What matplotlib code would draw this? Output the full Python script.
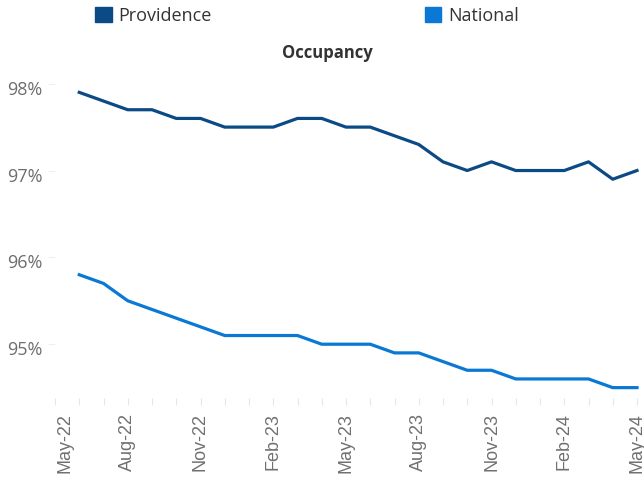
import matplotlib
matplotlib.use("Agg")
import matplotlib.pyplot as plt
import matplotlib.transforms as mtransforms
from matplotlib.patches import Patch
from matplotlib.ticker import FuncFormatter, MultipleLocator

# months from May-22 (index 0) to May-24 (index 24); series start at Jun-22
months = ["May-22", "Jun-22", "Jul-22", "Aug-22", "Sep-22", "Oct-22", "Nov-22",
          "Dec-22", "Jan-23", "Feb-23", "Mar-23", "Apr-23", "May-23", "Jun-23",
          "Jul-23", "Aug-23", "Sep-23", "Oct-23", "Nov-23", "Dec-23", "Jan-24",
          "Feb-24", "Mar-24", "Apr-24", "May-24"]

providence = [97.9, 97.8, 97.7, 97.7, 97.6, 97.6, 97.5, 97.5, 97.5, 97.6, 97.6, 97.5,
              97.5, 97.4, 97.3, 97.1, 97.0, 97.1, 97.0, 97.0, 97.0, 97.1, 96.9, 97.0]
national = [95.8, 95.7, 95.5, 95.4, 95.3, 95.2, 95.1, 95.1, 95.1, 95.1, 95.0, 95.0,
            95.0, 94.9, 94.9, 94.8, 94.7, 94.7, 94.6, 94.6, 94.6, 94.6, 94.5, 94.5]

yticks = [95, 96, 97, 98]

c_prov = "#0b4a85"
c_nat = "#0a78d4"

plt.rcParams["font.family"] = ["Open Sans", "DejaVu Sans"]

fig = plt.figure(figsize=(6.44, 4.8), dpi=100)
ax = fig.add_axes([55 / 644, 1 - 405 / 480, 582 / 644, (405 - 75) / 480])

x = list(range(1, len(months)))
ax.plot(x, providence, color=c_prov, lw=2.3, clip_on=False, solid_joinstyle="round")
ax.plot(x, national, color=c_nat, lw=2.3, clip_on=False, solid_joinstyle="round")

ax.set_xlim(0, len(months) - 1)
ax.set_ylim(94.3, 98.1)

for s in ax.spines.values():
    s.set_visible(False)

ax.set_yticks(yticks)
ax.yaxis.set_major_formatter(FuncFormatter(lambda v, p: "%d%%" % v))
ax.tick_params(axis="y", length=5, width=0.8, color="#eeeeee", pad=4,
               labelsize=13, labelcolor="#6e6e6e")
for lab in ax.get_yticklabels():
    lab.set_verticalalignment("top")
    lab.set_transform(lab.get_transform() + mtransforms.ScaledTranslation(0, 0.03, fig.dpi_scale_trans))

xt = list(range(0, len(months), 3))
ax.set_xticks(xt)
ax.set_xticklabels([months[i] for i in xt], rotation=90, fontfamily="Liberation Sans")
ax.xaxis.set_minor_locator(MultipleLocator(1))
ax.tick_params(axis="x", which="both", direction="in", length=5, width=0.8,
               color="#e6e6e6", pad=6, labelsize=13, labelcolor="#707070")
first = ax.get_xticklabels()[0]
first.set_transform(first.get_transform() + mtransforms.ScaledTranslation(0.1, 0, fig.dpi_scale_trans))

fig.text(327 / 644, 1 - 53 / 480, "Occupancy", ha="center", va="center",
         fontsize=12, fontweight="bold", color="#333333")

handles = [Patch(color=c_prov, label="Providence"), Patch(color=c_nat, label="National")]
fig.legend(handles=handles, loc="upper left", bbox_to_anchor=(79 / 644, 1.019), ncol=2,
           frameon=False, fontsize=13, handlelength=0.9, handleheight=0.9,
           handletextpad=0.4, columnspacing=11.8, labelcolor="#333333")

fig.savefig("out.png", dpi=100)
